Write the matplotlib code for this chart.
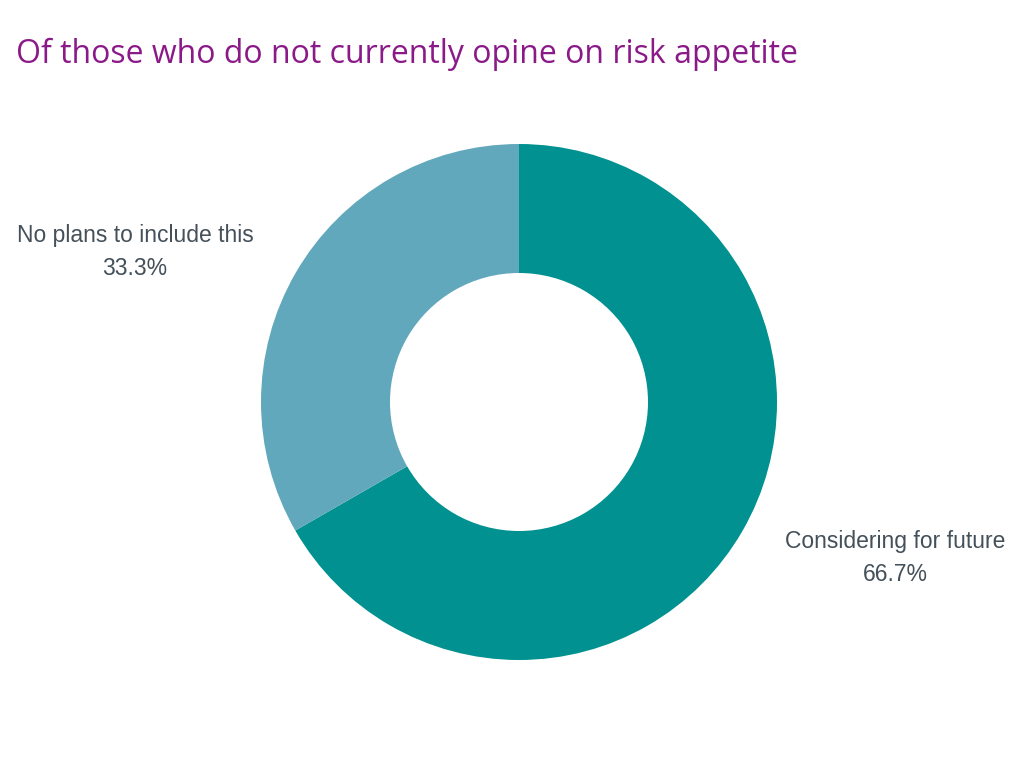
import matplotlib
matplotlib.use("Agg")
import matplotlib.pyplot as plt

categories = ["Considering for future", "No plans to include this"]
values = [66.7, 33.3]
colors = ["#009190", "#62A8BC"]

fig = plt.figure(figsize=(10.24, 7.68), dpi=100)
ax = fig.add_axes([0, 0, 1, 1])
ax.set_xlim(0, 1024)
ax.set_ylim(0, 768)
ax.set_aspect("equal")
ax.axis("off")

cx, cy, r = 519, 768 - 402, 258
ax.pie(values, colors=colors, startangle=90, counterclock=False,
       center=(cx, cy), radius=r,
       wedgeprops=dict(width=r * 0.5, linewidth=0))
ax.set_xlim(0, 1024)
ax.set_ylim(0, 768)

fig.text(16 / 1024, 1 - 63 / 768, "Of those who do not currently opine on risk appetite",
         fontsize=23, color="#8B1A89", family="Open Sans", ha="left", va="baseline")

label_pos = [(895, 548), (135, 242)]
for name, v, (x, y) in zip(categories, values, label_pos):
    fig.text(x / 1024, 1 - y / 768, name, fontsize=16.5, color="#44505A",
             family="Liberation Sans", ha="center", va="baseline")
    fig.text(x / 1024, 1 - (y + 33) / 768, f"{v:.1f}%", fontsize=16.5, color="#44505A",
             family="Liberation Sans", ha="center", va="baseline")

fig.savefig("out.png", dpi=100, facecolor="white")
